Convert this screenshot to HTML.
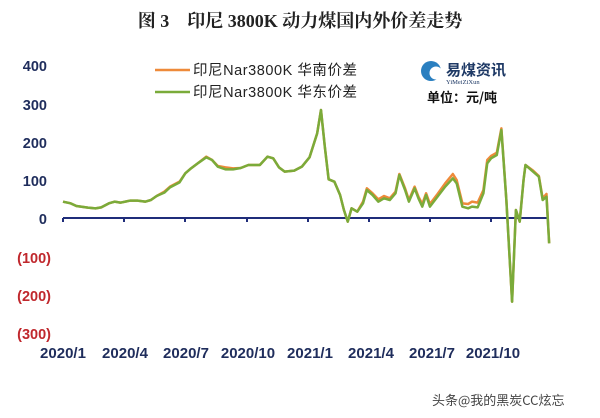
<!DOCTYPE html>
<html><head><meta charset="utf-8"><style>
html,body{margin:0;padding:0;background:#fff;}
svg{display:block}
</style></head><body>
<svg width="600" height="418" viewBox="0 0 600 418" xmlns="http://www.w3.org/2000/svg">
<rect width="600" height="418" fill="#fff"/>
<text x="300" y="27" text-anchor="middle" font-family="Liberation Serif, 'Noto Serif CJK SC', serif" font-weight="bold" font-size="18" fill="#222">图 3　印尼 3800K 动力煤国内外价差走势</text>
<g font-family="Liberation Sans, 'Noto Sans CJK SC', sans-serif" font-weight="bold" font-size="14.5" text-anchor="end">
<text x="47" y="71" fill="#1f2d5c">400</text>
<text x="47" y="110" fill="#1f2d5c">300</text>
<text x="47" y="148" fill="#1f2d5c">200</text>
<text x="47" y="186" fill="#1f2d5c">100</text>
<text x="47" y="224" fill="#1f2d5c">0</text>
<text x="51" y="263" fill="#c0282d">(100)</text>
<text x="51" y="301" fill="#c0282d">(200)</text>
<text x="51" y="339" fill="#c0282d">(300)</text>
</g>
<g font-family="Liberation Sans, sans-serif" font-weight="bold" font-size="15" fill="#1f2d5c" text-anchor="middle">
<text x="63" y="358">2020/1</text>
<text x="125" y="358">2020/4</text>
<text x="186" y="358">2020/7</text>
<text x="248" y="358">2020/10</text>
<text x="310" y="358">2021/1</text>
<text x="371" y="358">2021/4</text>
<text x="432" y="358">2021/7</text>
<text x="493" y="358">2021/10</text>
</g>
<g stroke="#1f2d7a" stroke-width="2">
<line x1="63" y1="218" x2="548" y2="218"/>
<line x1="63" y1="218" x2="63" y2="222"/><line x1="124" y1="218" x2="124" y2="222"/><line x1="185" y1="218" x2="185" y2="222"/><line x1="247" y1="218" x2="247" y2="222"/><line x1="308" y1="218" x2="308" y2="222"/><line x1="369" y1="218" x2="369" y2="222"/><line x1="430" y1="218" x2="430" y2="222"/><line x1="491" y1="218" x2="491" y2="222"/>
</g>
<g transform="matrix(0.3822,0,0,0.33333,-0.063,100)" fill="none" stroke-linejoin="round">
<path vector-effect="non-scaling-stroke" stroke="#ee8a3a" stroke-width="2.5" d="M165,305 L185,310 200,318 230,323 250,325 265,322 285,310 300,305 315,308 340,302 360,302 380,305 395,300 410,288 430,275 445,260 470,245 485,220 500,205 520,188 540,170 555,180 570,198 590,202 610,205 630,204 650,195 680,195 700,170 715,175 730,202 745,215 770,212 790,200 810,172 830,100 840,30 850,140 860,238 875,245 890,285 900,330 910,365 920,325 935,335 950,305 960,265 975,280 990,298 1005,288 1020,295 1035,275 1045,222 1060,265 1070,300 1085,260 1095,290 1105,312 1115,280 1125,312 1145,282 1165,250 1185,222 1195,240 1210,310 1225,312 1235,305 1250,308 1265,270 1275,180 1285,168 1300,158 1312,85 1325,300 1340,605 1350,330 1360,365 1370,240 1375,195 1395,212 1410,228 1420,295 1430,282 1437,430"/>
<path vector-effect="non-scaling-stroke" stroke="#7aab3a" stroke-width="2.5" d="M165,305 L185,310 200,318 230,323 250,325 265,322 285,310 300,305 315,308 340,302 360,302 380,305 395,300 410,288 430,278 445,262 470,247 485,220 500,205 520,188 540,172 555,180 570,200 590,208 610,208 630,204 650,195 680,195 700,170 715,175 730,202 745,215 770,212 790,200 810,172 830,100 840,30 850,140 860,238 875,245 890,285 900,330 910,365 920,325 935,335 950,310 960,270 975,285 990,305 1005,295 1020,300 1035,280 1045,225 1060,270 1070,305 1085,265 1095,295 1105,320 1115,285 1125,320 1145,290 1165,260 1185,235 1195,250 1210,320 1225,325 1235,320 1250,322 1265,280 1275,190 1285,175 1300,165 1312,90 1325,300 1340,605 1350,330 1360,365 1370,240 1375,195 1395,215 1410,230 1420,300 1430,290 1437,430"/>
</g>
<line x1="155" y1="70" x2="190" y2="70" stroke="#ee8a3a" stroke-width="2.5"/>
<line x1="155" y1="92" x2="190" y2="92" stroke="#7aab3a" stroke-width="2.5"/>
<g font-family="Liberation Sans, 'Noto Sans CJK SC', sans-serif" font-size="14.5" fill="#222">
<text x="193" y="75" textLength="164">印尼Nar3800K 华南价差</text>
<text x="193" y="97" textLength="164">印尼Nar3800K 华东价差</text>
</g>
<circle cx="431" cy="71" r="10" fill="#2a7fc0"/>
<circle cx="436" cy="73" r="6.5" fill="#fff"/>
<text x="446" y="75" font-family="'Noto Sans CJK SC', sans-serif" font-weight="bold" font-size="15" fill="#1f3a66">易煤资讯</text>
<text x="446" y="84" font-family="Liberation Serif, serif" font-size="6.5" fill="#1f3a66">YiMeiZiXun</text>
<text x="427" y="102" font-family="'Noto Sans CJK SC', sans-serif" font-weight="bold" font-size="13" fill="#111">单位：元/吨</text>
<text x="432" y="405" font-family="'Noto Sans CJK SC', sans-serif" font-size="13" fill="#444">头条@我的黑炭CC炫忘</text>
</svg>
</body></html>
